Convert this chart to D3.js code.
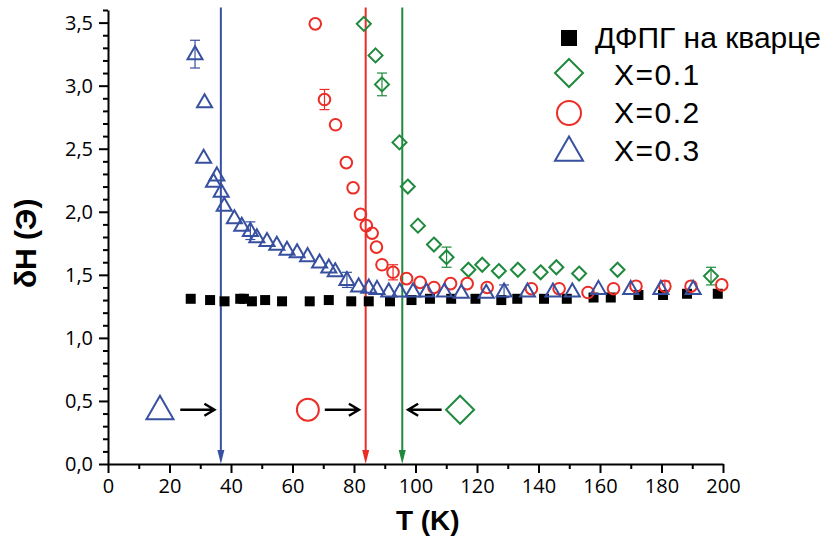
<!DOCTYPE html>
<html>
<head>
<meta charset="utf-8">
<script src="https://cdn.jsdelivr.net/npm/d3@7"></script>
<style>
  body { margin: 0; background: #fff; }
  .axis text { font-family: "Open Sans", sans-serif; font-size: 20px; fill: #000; }
  .axis path, .axis line { stroke: #000; stroke-width: 2; }
</style>
</head>
<body>
<div id="chart"></div>
<script>
// ДФПГ на кварце (reference)
const dpphT = [26.9, 33.2, 37.9, 43.0, 44.2, 46.8, 51.1, 56.6, 65.6, 71.8, 79.1, 84.8, 91.7, 98.7,
               104.7, 111.6, 119.5, 127.9, 133.1, 141.8, 149.2, 157.9, 163.5, 172.5, 180.5, 188.3, 198.3];
const dpphH = [1.31, 1.30, 1.29, 1.31, 1.31, 1.29, 1.30, 1.29, 1.29, 1.30, 1.29, 1.29, 1.29, 1.30,
               1.31, 1.31, 1.31, 1.30, 1.31, 1.31, 1.31, 1.32, 1.32, 1.34, 1.34, 1.35, 1.35];
// X=0.1
const x01T = [83.2, 87.0, 89.1, 94.8, 97.5, 100.8, 106.0, 110.1, 117.2, 121.7, 127.1, 133.3, 140.7, 145.8, 153.2, 165.7, 196.1];
const x01H = [3.49, 3.24, 3.01, 2.55, 2.20, 1.89, 1.74, 1.64, 1.54, 1.58, 1.53, 1.54, 1.52, 1.56, 1.51, 1.54, 1.49];
// X=0.2
const x02T = [67.4, 70.4, 74.0, 77.5, 79.7, 82.1, 84.0, 85.9, 87.3, 89.1, 92.7, 97.1, 101.5, 106.0, 111.4,
              116.8, 123.3, 137.7, 146.7, 156.1, 164.4, 171.7, 181.1, 189.6, 199.6];
const x02H = [3.49, 2.89, 2.69, 2.39, 2.19, 1.98, 1.89, 1.83, 1.72, 1.58, 1.52, 1.47, 1.44, 1.40, 1.43,
              1.43, 1.40, 1.39, 1.39, 1.36, 1.39, 1.41, 1.41, 1.41, 1.42];
// X=0.3
const x03T = [28.3, 31.4, 31.1, 34.3, 35.4, 36.8, 37.8, 41.1, 43.5, 46.3, 48.4, 51.7, 54.9, 58.2, 61.5, 64.9,
              68.8, 71.8, 73.9, 77.7, 81.5, 84.8, 87.5, 91.3, 94.9, 99.2, 103.6, 109.4, 114.9, 123.0, 128.8,
              136.4, 144.7, 151.0, 159.5, 170.0, 179.8, 190.3];
const x03H = [3.25, 2.87, 2.43, 2.24, 2.29, 2.16, 2.05, 1.95, 1.89, 1.85, 1.80, 1.77, 1.74, 1.70, 1.68, 1.65,
              1.60, 1.56, 1.53, 1.46, 1.41, 1.40, 1.39, 1.37, 1.37, 1.37, 1.37, 1.37, 1.36, 1.36, 1.37,
              1.37, 1.37, 1.37, 1.39, 1.39, 1.39, 1.39];
// error bars: [T, H, err]
const errX01 = [[89.1, 3.01, 0.09], [110.1, 1.64, 0.08], [196.1, 1.49, 0.07]];
const errX02 = [[70.4, 2.89, 0.08], [92.7, 1.52, 0.06], [181.1, 1.41, 0.04]];
const errX03 = [[28.3, 3.25, 0.11], [46.3, 1.85, 0.07], [77.7, 1.46, 0.06], [128.8, 1.37, 0.05]];
// transition temperatures (vertical arrows)
const markT = [36.7, 83.8, 95.7];
const xTicks = [0, 20, 40, 60, 80, 100, 120, 140, 160, 180, 200];
const yTicks = [0, 0.5, 1.0, 1.5, 2.0, 2.5, 3.0, 3.5];
const legendLabels = ["ДФПГ на кварце", "X=0.1", "X=0.2", "X=0.3"];

const blue = "#3850a0", red = "#ec2d27", green = "#1f8a3e";

const margin = {top: 10, right: 101, bottom: 78, left: 108},
    W = 824, H = 542,
    width = W - margin.left - margin.right,
    height = H - margin.top - margin.bottom;

const x = d3.scaleLinear().domain([0, 200]).range([0, width]);
const y = d3.scaleLinear().domain([0, 3.6]).range([height, 0]);

const svg = d3.select("#chart").append("svg")
    .attr("width", W).attr("height", H)
  .append("g")
    .attr("transform", "translate(" + margin.left + "," + margin.top + ")");

// minor ticks
svg.append("g").attr("class", "axis")
    .attr("transform", "translate(0," + height + ")")
    .call(d3.axisBottom(x).tickValues(d3.range(10, 200, 20)).tickSize(5).tickFormat(""))
    .select(".domain").remove();
svg.append("g").attr("class", "axis")
    .call(d3.axisLeft(y).tickValues(d3.range(0, 37).map(d => d / 10).filter(d => Math.round(d * 10) % 5 !== 0 || d > 3.55))
        .tickSize(5).tickFormat(""))
    .select(".domain").remove();

const fmt = d => d3.format(".1f")(d).replace(".", ",");
svg.append("g").attr("class", "axis")
    .attr("transform", "translate(0," + height + ")")
    .call(d3.axisBottom(x).tickValues(xTicks).tickSizeInner(9).tickSizeOuter(0).tickPadding(6));
svg.append("g").attr("class", "axis")
    .call(d3.axisLeft(y).tickValues(yTicks).tickSizeInner(9).tickSizeOuter(0).tickPadding(6).tickFormat(fmt));

// axis titles
svg.append("text")
    .attr("x", x(104)).attr("y", height + 66)
    .attr("text-anchor", "middle")
    .style("font-family", "Liberation Sans, Arial, sans-serif").style("font-weight", "bold").style("font-size", "28px")
    .text("T (K)");
svg.append("text")
    .attr("transform", "translate(" + (-72) + "," + y(1.75) + ") rotate(-90)")
    .attr("text-anchor", "middle")
    .style("font-family", "Liberation Sans, Arial, sans-serif").style("font-weight", "bold").style("font-size", "30px")
    .text("δH (Э)");

// marker paths
function diamond(s) { return "M0," + (-s) + "L" + s + ",0L0," + s + "L" + (-s) + ",0Z"; }
function triangle(w) { const h = w * 0.87; return "M0," + (-h * 0.6) + "L" + (w / 2) + "," + (h * 0.4) + "L" + (-w / 2) + "," + (h * 0.4) + "Z"; }
function circle(r) { return d3.arc()({innerRadius: 0, outerRadius: r, startAngle: 0, endAngle: 2 * Math.PI}); }
function square(s) { return "M" + (-s) + "," + (-s) + "h" + (2 * s) + "v" + (2 * s) + "h" + (-2 * s) + "Z"; }

// vertical marker lines with arrowheads
const markColors = [blue, red, green];
markT.forEach(function(t, i) {
    svg.append("line")
        .attr("x1", x(t)).attr("x2", x(t))
        .attr("y1", y(3.62)).attr("y2", y(0) - 10)
        .attr("stroke", markColors[i]).attr("stroke-width", 2);
    svg.append("path")
        .attr("d", "M" + (x(t) - 3.5) + "," + (y(0) - 14) + "L" + (x(t) + 3.5) + "," + (y(0) - 14) + "L" + x(t) + "," + y(0) + "Z")
        .attr("fill", markColors[i]);
});

// error bars
function errBars(arr, color) {
    arr.forEach(function(d) {
        const g = svg.append("g").attr("stroke", color).attr("stroke-width", 1.2);
        g.append("line").attr("x1", x(d[0])).attr("x2", x(d[0])).attr("y1", y(d[1] - d[2])).attr("y2", y(d[1] + d[2]));
        [d[1] - d[2], d[1] + d[2]].forEach(function(v) {
            g.append("line").attr("x1", x(d[0]) - 5).attr("x2", x(d[0]) + 5).attr("y1", y(v)).attr("y2", y(v));
        });
    });
}
errBars(errX01, green);
errBars(errX02, red);
errBars(errX03, blue);

function series(T, V, path, stroke, fill) {
    svg.append("g").selectAll("path")
        .data(T.map((t, i) => [t, V[i]]))
        .enter().append("path")
        .attr("transform", d => "translate(" + x(d[0]) + "," + y(d[1]) + ")")
        .attr("d", path)
        .attr("fill", fill)
        .attr("stroke", stroke)
        .attr("stroke-width", 2);
}
series(dpphT, dpphH, square(5), "none", "#000");
series(x01T, x01H, diamond(7), green, "none");
series(x02T, x02H, circle(5.8), red, "none");
series(x03T, x03H, triangle(15), blue, "none");

// annotation symbols with black arrows
const annY = 0.43;
function arrow(t0, t1) {
    const x0 = x(t0), x1 = x(t1), yy = y(annY), dir = x1 > x0 ? 1 : -1;
    svg.append("path")
        .attr("d", "M" + x0 + "," + yy + "L" + x1 + "," + yy +
            "M" + (x1 - dir * 10) + "," + (yy - 6) + "L" + x1 + "," + yy + "L" + (x1 - dir * 10) + "," + (yy + 6))
        .attr("fill", "none").attr("stroke", "#000").attr("stroke-width", 2.5);
}
svg.append("path").attr("transform", "translate(" + x(16.9) + "," + y(annY) + ")")
    .attr("d", triangle(27)).attr("fill", "none").attr("stroke", blue).attr("stroke-width", 2);
arrow(23.5, 34.6);
svg.append("path").attr("transform", "translate(" + x(65) + "," + y(annY) + ")")
    .attr("d", circle(11)).attr("fill", "none").attr("stroke", red).attr("stroke-width", 2);
arrow(70.5, 81.6);
svg.append("path").attr("transform", "translate(" + x(114.5) + "," + y(annY) + ")")
    .attr("d", diamond(14)).attr("fill", "none").attr("stroke", green).attr("stroke-width", 2);
arrow(108.5, 97.6);

// legend
const legend = svg.append("g").attr("transform", "translate(" + (W - margin.left - 824 + 569) + ",0)");
const legRows = [
    {p: square(8), s: "none", f: "#000", y: 28, ty: 38, tx: 26},
    {p: diamond(14), s: green, f: "none", y: 63, ty: 75, tx: 45},
    {p: circle(12), s: red, f: "none", y: 103, ty: 113, tx: 45},
    {p: triangle(28), s: blue, f: "none", y: 141, ty: 151, tx: 45}
];
legRows.forEach(function(r, i) {
    legend.append("path").attr("transform", "translate(0," + r.y + ")")
        .attr("d", r.p).attr("fill", r.f).attr("stroke", r.s).attr("stroke-width", 2);
    legend.append("text")
        .attr("x", r.tx).attr("y", r.ty)
        .style("font-family", "Liberation Sans, Arial, sans-serif").style("font-size", "30px")
        .style("letter-spacing", i ? "1.5px" : "0px")
        .text(legendLabels[i]);
});
</script>
</body>
</html>
